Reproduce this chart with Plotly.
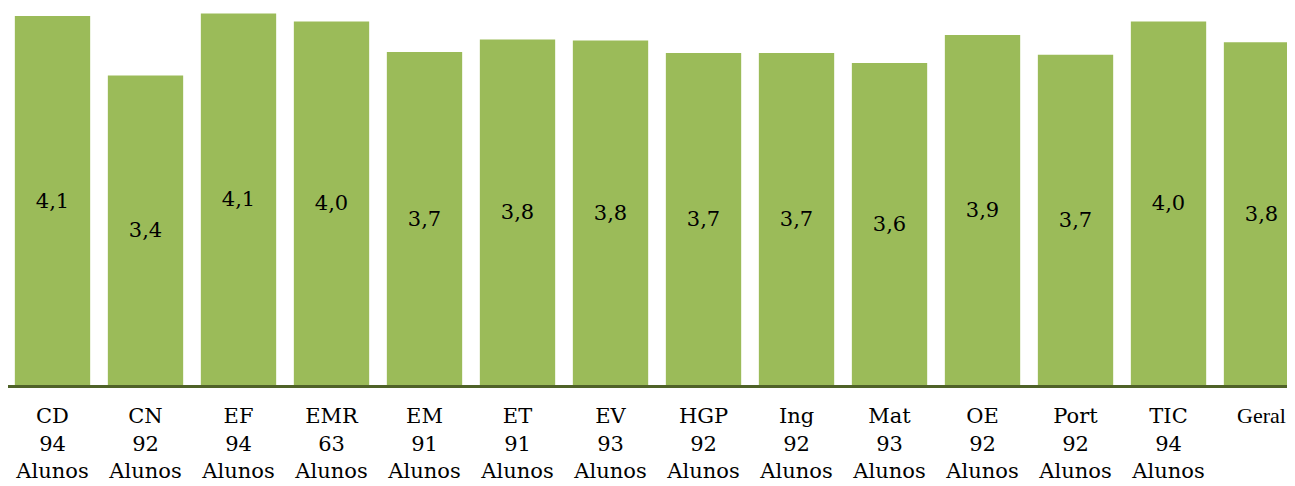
import plotly.graph_objects as go

categories = ["CD", "CN", "EF", "EMR", "EM", "ET", "EV", "HGP", "Ing", "Mat", "OE", "Port", "TIC", "Geral"]
students = [94, 92, 94, 63, 91, 91, 93, 92, 92, 93, 92, 92, 94, None]
values = [4.10, 3.44, 4.13, 4.04, 3.70, 3.84, 3.83, 3.69, 3.69, 3.58, 3.89, 3.67, 4.04, 3.81]

# The last label sits near the right edge: use a narrower serif so it fits
tick_labels = [
    f"{c}<br>{n}<br>Alunos" if n is not None
    else f"<span style='font-family:Liberation Serif;font-size:22px'>{c}</span>"
    for c, n in zip(categories, students)
]

fig = go.Figure(
    go.Bar(
        x=categories,
        y=values,
        marker=dict(color="#9BBB59", line=dict(width=0)),
        texttemplate="%{y:.1f}",
        textposition="inside",
        insidetextanchor="middle",
        textangle=0,
        textfont=dict(family="DejaVu Serif", size=21, color="#000000"),
        cliponaxis=True,
    )
)

fig.update_layout(
    width=1287,
    height=478,
    margin=dict(l=0, r=0, t=0, b=101, autoexpand=False),
    paper_bgcolor="white",
    plot_bgcolor="white",
    bargap=0.19,
    separators=",.",
    showlegend=False,
    font=dict(family="DejaVu Serif", size=21, color="#000000"),
)

fig.update_xaxes(
    range=[-0.4785, 13.36],
    tickmode="array",
    tickvals=categories,
    ticktext=tick_labels,
    showline=True,
    linecolor="#4F6228",
    linewidth=3,
    ticks="",
    showgrid=False,
    automargin=False,
    ticklabelstandoff=10,
    tickfont=dict(family="DejaVu Serif", size=21, color="#000000"),
)
fig.update_yaxes(
    range=[0, 4.19],
    visible=False,
    showgrid=False,
    zeroline=False,
    automargin=False,
)

fig.write_html("out.html")
